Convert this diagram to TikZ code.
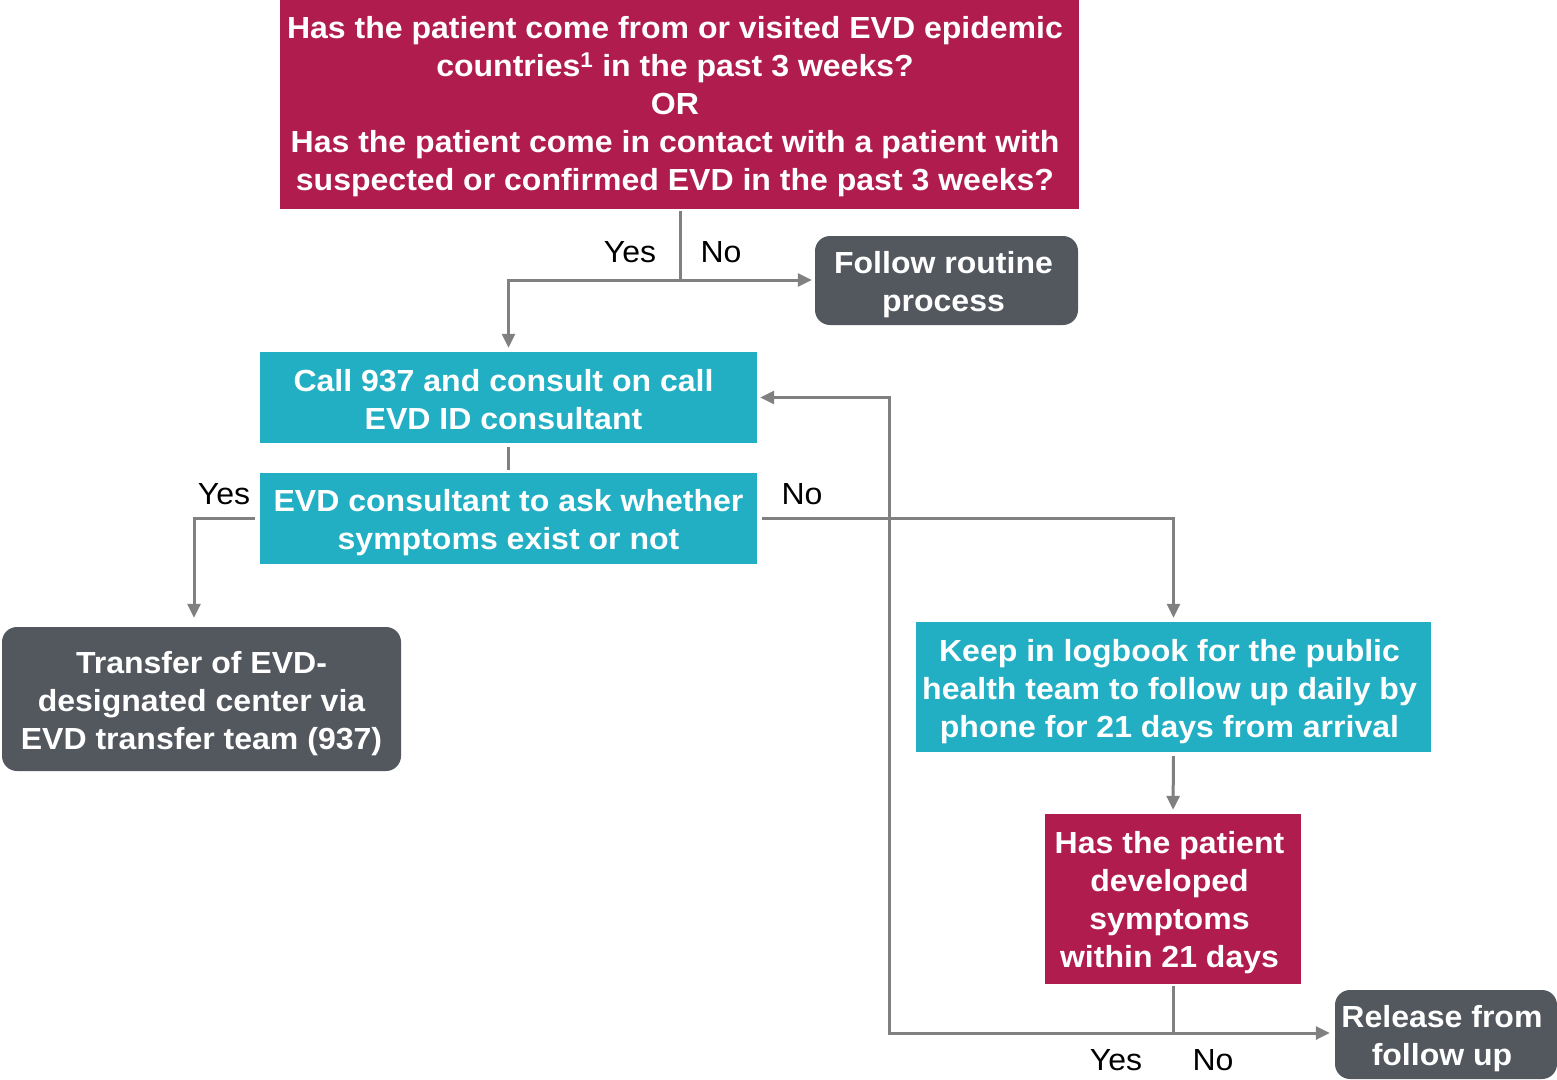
\documentclass[tikz,border=0pt]{standalone}
\usepackage{fontspec}
\setmainfont{Liberation Sans}[FakeStretch=1.05]
\usetikzlibrary{arrows.meta}
\definecolor{crim}{RGB}{177,28,79}
\definecolor{teal2}{RGB}{34,175,195}
\definecolor{dgray}{RGB}{83,87,94}
\definecolor{lgray}{RGB}{128,128,128}
\tikzset{
  boxbase/.style={inner sep=0pt},
  redbox/.style={boxbase, fill=crim},
  tealbox/.style={boxbase, fill=teal2},
  graybox/.style={boxbase, fill=dgray, rounded corners=15pt},
  boxtext/.style={inner sep=0pt, align=center, text=white,
    font=\fontsize{30.5}{38}\selectfont\bfseries},
  conn/.style={draw=lgray, line width=3pt},
  arr/.style={conn, -{Triangle[length=14pt,width=13pt]}},
  lbl/.style={font=\fontsize{30.5}{36}\selectfont, inner sep=0pt}
}
\begin{document}
\begin{tikzpicture}[x=1pt,y=-1pt]
\useasboundingbox (0,0) rectangle (1557,1079);
\node[redbox, minimum width=799pt, minimum height=209pt] (top) at (679.5,104.5) {};
\node[boxtext] (topt) at ([xshift=-4.5pt,yshift=-2pt]top.center)
  {Has the patient come from or visited EVD epidemic\\
   countries\textsuperscript{1} in the past 3 weeks?\\
   OR\\
   Has the patient come in contact with a patient with\\
   suspected or confirmed EVD in the past 3 weeks?};
\node[graybox, minimum width=263pt, minimum height=89pt] (follow) at (946.5,280.5) {};
\node[boxtext] (followt) at ([xshift=-3pt,yshift=-4pt]follow.center)
  {Follow routine\\process};
\node[tealbox, minimum width=497pt, minimum height=91pt] (call) at (508.5,397.5) {};
\node[boxtext] (callt) at ([xshift=-5pt,yshift=-2pt]call.center)
  {Call 937 and consult on call\\EVD ID consultant};
\node[tealbox, minimum width=497pt, minimum height=91pt] (evd) at (508.5,518.5) {};
\node[boxtext] (evdt) at ([yshift=-4pt]evd.center)
  {EVD consultant to ask whether\\symptoms exist or not};
\node[graybox, minimum width=399pt, minimum height=144pt] (transfer) at (201.5,699) {};
\node[boxtext] (transfert) at ([yshift=-5pt]transfer.center)
  {Transfer of EVD-\\designated center via\\EVD transfer team (937)};
\node[tealbox, minimum width=515pt, minimum height=130pt] (keep) at (1173.5,687) {};
\node[boxtext] (keept) at ([xshift=-4pt,yshift=-5pt]keep.center)
  {Keep in logbook for the public\\health team to follow up daily by\\phone for 21 days from arrival};
\node[redbox, minimum width=256pt, minimum height=170pt] (has21) at (1173,899) {};
\node[boxtext] (has21t) at ([xshift=-3.5pt,yshift=-4pt]has21.center)
  {Has the patient\\developed\\symptoms\\within 21 days};
\node[graybox, minimum width=222pt, minimum height=89pt] (release) at (1446,1034.5) {};
\node[boxtext] (releaset) at ([xshift=-4pt,yshift=-4pt]release.center)
  {Release from\\follow up};

\node[lbl] (yes1) at (630,252) {Yes};
\node[lbl] (no1) at (721,252) {No};
\node[lbl] (yes2) at (224,494) {Yes};
\node[lbl] (no2) at (802,494) {No};
\node[lbl] (yes3) at (1116,1060) {Yes};
\node[lbl] (no3) at (1213,1060) {No};

\coordinate (j1) at (680,280);
\coordinate (j2) at (1173,1033);
\coordinate (c1) at (889,397.5);

\draw[conn, shorten <=2pt] (top.south -| j1) -- (j1);
\draw[arr, shorten >=4pt] (j1) -| (call.north);
\draw[arr, shorten >=3pt] (j1) -- (follow.west |- j1);
\draw[conn, shorten <=4pt, shorten >=3pt] (call.south) -- (evd.north);
\draw[arr] ([xshift=-5pt]evd.west) -| ([xshift=-7.5pt,yshift=9pt]transfer.north);
\draw[arr] ([xshift=5pt]evd.east) -| ([yshift=4pt]keep.north);
\draw[arr, shorten <=4pt, shorten >=4pt] (keep.south) -- (has21.north);
\draw[conn, shorten <=2pt] (has21.south -| j2) -- (j2);
\draw[arr, shorten >=5pt] (j2) -- (release.west |- j2);
\draw[arr, shorten >=3pt] (j2) -| (c1) -- (call.east);
\end{tikzpicture}
\end{document}
